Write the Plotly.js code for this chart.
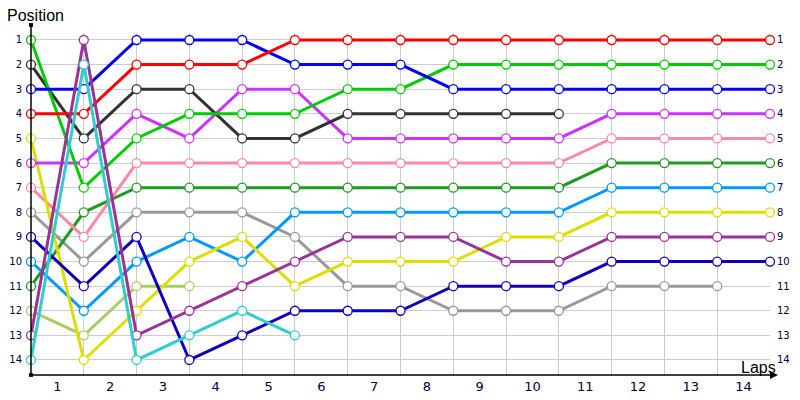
<!DOCTYPE html>
<html>
<head>
<meta charset="utf-8">
<script src="https://cdn.plot.ly/plotly-3.0.1.min.js"></script>
<style>html,body{margin:0;padding:0;background:#fff;}#chart{width:800px;height:400px;}</style>
</head>
<body>
<div id="chart"></div>
<script>
// Lap index 0 = grid (start), then laps 1..14
const laps = [0,1,2,3,4,5,6,7,8,9,10,11,12,13,14];
const lapLabels = ["1","2","3","4","5","6","7","8","9","10","11","12","13","14"];
const lapLabelPos = [0.5,1.5,2.5,3.5,4.5,5.5,6.5,7.5,8.5,9.5,10.5,11.5,12.5,13.5];
const positions = [1,2,3,4,5,6,7,8,9,10,11,12,13,14];

const posRed       = [4,4,2,2,2,1,1,1,1,1,1,1,1,1,1];
const posGreen     = [1,7,5,4,4,4,3,3,2,2,2,2,2,2,2];
const posBlue      = [3,3,1,1,1,2,2,2,3,3,3,3,3,3,3];
const posBlack     = [2,5,3,3,5,5,4,4,4,4,4];
const posMagenta   = [6,6,4,5,3,3,5,5,5,5,5,4,4,4,4];
const posPink      = [7,9,6,6,6,6,6,6,6,6,6,5,5,5,5];
const posDarkGreen = [11,8,7,7,7,7,7,7,7,7,7,6,6,6,6];
const posLightBlue = [10,12,10,9,10,8,8,8,8,8,8,7,7,7,7];
const posYellow    = [5,14,12,10,9,11,10,10,10,9,9,8,8,8,8];
const posPurple    = [13,1,13,12,11,10,9,9,9,10,10,9,9,9,9];
const posNavy      = [9,11,9,14,13,12,12,12,11,11,11,10,10,10,10];
const posGrey      = [8,10,8,8,8,9,11,11,12,12,12,11,11,11];
const posOlive     = [12,13,11,11];
const posCyan      = [14,2,14,13,12,13];

const series = [
  {y: posGrey, color: '#999999'},
  {y: posOlive, color: '#aacc66'},
  {y: posDarkGreen, color: '#229922'},
  {y: posPink, color: '#ff88aa'},
  {y: posLightBlue, color: '#0099ff'},
  {y: posYellow, color: '#dddd00'},
  {y: posNavy, color: '#1100bb'},
  {y: posMagenta, color: '#cc33ff'},
  {y: posBlack, color: '#333333'},
  {y: posGreen, color: '#00cc00'},
  {y: posBlue, color: '#0000ff'},
  {y: posRed, color: '#ff0000'},
  {y: posPurple, color: '#993399'},
  {y: posCyan, color: '#33cccc'}
];

const traces = series.map(s => ({
  type: 'scatter', mode: 'lines+markers',
  x: laps.slice(0, s.y.length), y: s.y,
  line: {color: s.color, width: 3},
  marker: {symbol: 'circle', size: 9, color: '#ffffff', line: {color: s.color, width: 1.3}},
  cliponaxis: false, showlegend: false, hoverinfo: 'skip'
}));
traces.push({type:'scatter', x: [], y: [], xaxis: 'x2', yaxis: 'y2', showlegend: false});

const layout = {
  width: 800, height: 400,
  margin: {l: 31, r: 30, t: 33, b: 25, pad: 0},
  paper_bgcolor: '#ffffff', plot_bgcolor: '#ffffff',
  font: {family: 'Liberation Sans, Arial, sans-serif', color: '#000'},
  xaxis: {
    range: [0, 14], tickvals: positions, showticklabels: false,
    showgrid: true, gridcolor: '#cccccc', gridwidth: 1,
    zeroline: false, showline: false, ticks: '', fixedrange: true
  },
  xaxis2: {
    overlaying: 'x', side: 'bottom', anchor: 'y', range: [0, 14],
    tickmode: 'array', tickvals: lapLabelPos, ticktext: lapLabels,
    showgrid: false, zeroline: false, showline: false, ticks: '',
    tickfont: {size: 13, family: 'DejaVu Sans, sans-serif', color: '#000033'}, ticklabelstandoff: 2
  },
  yaxis: {
    range: [14.61, 0.716], tickvals: positions, ticktext: positions.map(String),
    showgrid: true, gridcolor: '#cccccc', gridwidth: 1,
    zeroline: false, showline: false, ticks: '',
    tickfont: {size: 10, family: 'DejaVu Sans, sans-serif', color: '#000033'}, ticklabelstandoff: 8
  },
  yaxis2: {
    overlaying: 'y', side: 'right', anchor: 'x', range: [14.61, 0.716],
    tickvals: positions, ticktext: positions.map(String),
    showgrid: false, zeroline: false, showline: false, ticks: '',
    tickfont: {size: 10, family: 'DejaVu Sans, sans-serif', color: '#000033'}, ticklabelstandoff: 6
  },
  shapes: [
    {type: 'line', xref: 'paper', yref: 'paper', x0: 0, x1: 0, y0: 0, y1: 1.0234, line: {color: '#000', width: 1.5}},
    {type: 'rect', xref: 'paper', yref: 'paper', x0: -0.0027, x1: 0.0027, y0: 1.018, y1: 1.029, fillcolor: '#000', line: {width: 0}},
    {type: 'rect', xref: 'paper', yref: 'paper', x0: -0.0027, x1: 0.0027, y0: -0.0055, y1: 0.0055, fillcolor: '#000', line: {width: 0}}
  ],
  annotations: [
    {xref: 'paper', yref: 'paper', x: 1.0108, y: 0, ax: -747, ay: 0, axref: 'pixel', ayref: 'pixel',
     text: '', showarrow: true, arrowhead: 2, arrowsize: 1, arrowwidth: 1.6, arrowcolor: '#000'},
    {xref: 'paper', yref: 'paper', x: -0.0352, y: 1.0526, xanchor: 'left', yanchor: 'middle',
     text: 'Position', showarrow: false, font: {size: 16, color: '#000'}},
    {xref: 'paper', yref: 'paper', x: 0.985, y: 0.023, xanchor: 'center', yanchor: 'middle',
     text: 'Laps', showarrow: false, font: {size: 16, color: '#000'}}
  ]
};

Plotly.newPlot('chart', traces, layout, {staticPlot: true, displayModeBar: false});
</script>
</body>
</html>
